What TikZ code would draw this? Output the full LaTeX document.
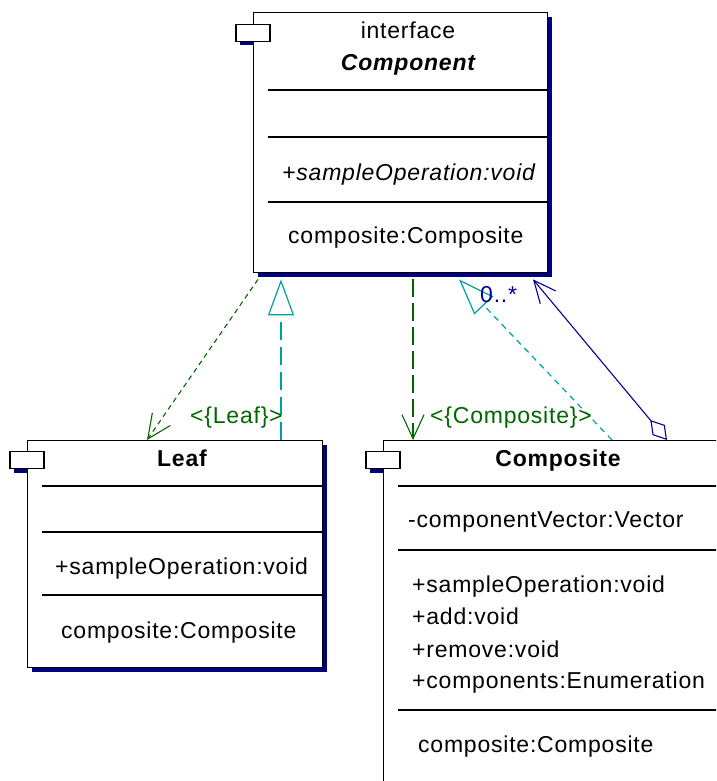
\documentclass[tikz,border=0pt]{standalone}
\usepackage{fontspec}
\setmainfont{Liberation Sans}[LetterSpace=3.4]
\usetikzlibrary{arrows.meta}

\definecolor{umlgreen}{RGB}{0,102,0}
\definecolor{umlteal}{RGB}{0,160,160}
\definecolor{umlnavy}{RGB}{0,0,153}
\definecolor{umlshadow}{RGB}{0,0,128}

\newcommand{\umlfont}{\fontsize{23}{30}\selectfont}

\begin{document}
\begin{tikzpicture}[x=1pt,y=-1pt,
  classbox/.style={draw,line width=1.4pt,fill=white,anchor=north west,inner sep=0pt},
  boxshadow/.style={fill=umlshadow,anchor=north west,inner sep=0pt},
  tabbox/.style={draw,line width=1.4pt,fill=white,minimum width=34pt,minimum height=17pt,inner sep=0pt},
  tabshadow/.style={fill=umlshadow,minimum width=34pt,minimum height=17pt,inner sep=0pt},
  sepline/.style={line width=1.4pt},
  title/.style={font=\umlfont\bfseries,anchor=base,inner sep=0pt},
  member/.style={font=\umlfont,anchor=base west,inner sep=0pt},
  lbl/.style={font=\umlfont,anchor=base west,inner sep=0pt},
  dep/.style={umlgreen,line width=1.1pt,-{Straight Barb[length=24pt,width=22pt]}},
  real/.style={umlteal,line width=1.2pt,-{Triangle[open,length=36pt,width=26pt]}},
  aggr/.style={umlnavy,line width=1.1pt,{Diamond[open,length=26pt,width=16pt]}-{Straight Barb[length=22pt,width=20pt]}}]

  \useasboundingbox (0,0) rectangle (716,781);
  \clip (0,0) rectangle (716,781);

  % shadows
  \node[tabshadow] at (257,37) {};
  \node[tabshadow] at (31,464) {};
  \node[tabshadow] at (387,464) {};
  \node[boxshadow, minimum width=294pt, minimum height=260pt] at (258,17) {};
  \node[boxshadow, minimum width=295pt, minimum height=227pt] at (32,445) {};

  % classes
  \node[classbox, minimum width=294pt, minimum height=260pt] (comp) at (253,12) {};
  \node[classbox, minimum width=295pt, minimum height=227pt] (leaf) at (27,440) {};
  \node[classbox, minimum width=336pt, minimum height=400pt] (compo) at (383,440) {};

  \node[tabbox] (comptab) at (253,33) {};
  \node[tabbox] (leaftab) at (27,460) {};
  \node[tabbox] (compotab) at (383,460) {};

  \draw[sepline] (268,90) -- (547,90);
  \draw[sepline] (268,137) -- (547,137);
  \draw[sepline] (268,202) -- (547,202);

  \draw[sepline] (42,486) -- (322,486);
  \draw[sepline] (42,532) -- (322,532);
  \draw[sepline] (42,595) -- (322,595);

  \draw[sepline] (398,486) -- (719,486);
  \draw[sepline] (398,550) -- (719,550);
  \draw[sepline] (398,710) -- (719,710);

  % Component
  \node[title, font=\umlfont] at (408,39) {interface};
  \node[title, font=\umlfont\bfseries\itshape] at (408,71) {Component};
  \node[member, font=\umlfont\itshape] at (282,180) {+sampleOperation:void};
  \node[member] at (288,243) {composite:Composite};

  % Leaf
  \node[title] at (182,466) {Leaf};
  \node[member] at (55,574) {+sampleOperation:void};
  \node[member] at (61,638) {composite:Composite};

  % Composite
  \node[title] at (558,466) {Composite};
  \node[member] at (408,527) {-componentVector:Vector};
  \node[member] at (412,592) {+sampleOperation:void};
  \node[member] at (412,624) {+add:void};
  \node[member] at (412,657) {+remove:void};
  \node[member] at (412,688) {+components:Enumeration};
  \node[member] at (418,752) {composite:Composite};

  % relations
  \draw[dep, dash pattern=on 5pt off 4pt] ([xshift=5pt,yshift=-6pt]comp.south west) -- ([xshift=120pt]leaf.north west);
  \draw[real, dash pattern=on 18pt off 7pt] ([xshift=254pt]leaf.north west) -- ([xshift=28pt,yshift=-6pt]comp.south west);
  \draw[dep, dash pattern=on 18pt off 6pt] ([xshift=160pt,yshift=-6pt]comp.south west) -- ([xshift=30pt]compo.north west);
  \draw[real, dash pattern=on 6pt off 5pt] ([xshift=229pt]compo.north west) -- ([xshift=206pt,yshift=-6pt]comp.south west);
  \draw[aggr] ([xshift=284pt]compo.north west) -- ([xshift=280pt,yshift=-6pt]comp.south west);

  \node[lbl, text=umlgreen] at (190,423) {\textless\{Leaf\}\textgreater};
  \node[lbl, text=umlgreen] at (430,423) {\textless\{Composite\}\textgreater};
  \node[lbl, text=umlnavy] at (480,302) {0..*};
\end{tikzpicture}
\end{document}
